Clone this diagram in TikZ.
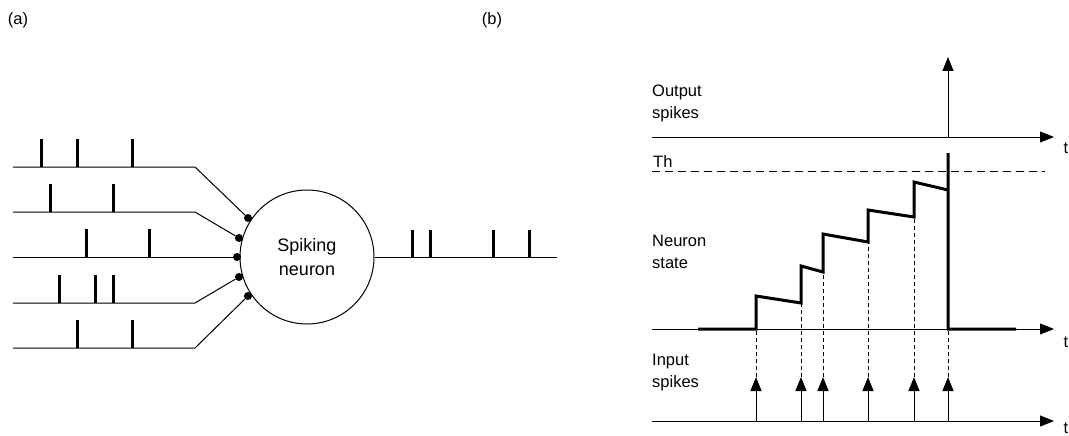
\documentclass[tikz,border=0pt]{standalone}
\usepackage{fontspec}
\setmainfont{Liberation Sans}
\usetikzlibrary{arrows.meta}

\tikzset{
  wire/.style={line width=1pt},
  spike/.style={line width=3pt},
  syn/.style={circle, fill, inner sep=0pt, minimum size=8pt},
  axis/.style={line width=1pt, -{Triangle[length=14pt,width=11pt]}},
  sidetext/.style={anchor=west, align=left, inner sep=0pt, font=\fontsize{16.5}{22}\selectfont},
  proj/.style={line width=0.8pt, dash pattern=on 4pt off 3pt},
}

\begin{document}
\begin{tikzpicture}[x=1pt, y=-1pt]
\useasboundingbox (0,0) rectangle (1069,436);

% panel labels
\node[font=\fontsize{16.5}{20}\selectfont] (pa) at (18,20) {(a)};
\node[font=\fontsize{16.5}{20}\selectfont] (pb) at (492,20) {(b)};

% (a) spiking neuron
\node[circle, draw, line width=1pt, minimum size=134pt, align=center, font=\fontsize{18}{24}\selectfont] (neuron) at (307,257) {Spiking\\neuron};

\node[syn] (s1) at (248,218) {};
\node[syn] (s2) at (239,238) {};
\node[syn] (s3) at (237,257) {};
\node[syn] (s4) at (239,277) {};
\node[syn] (s5) at (248,296) {};

\coordinate (in1) at (13,167);
\coordinate (in2) at (13,212);
\coordinate (in3) at (13,257);
\coordinate (in4) at (13,303);
\coordinate (in5) at (13,348);
\coordinate (k1) at (195,167);
\coordinate (k2) at (195,212);
\coordinate (k4) at (195,303);
\coordinate (k5) at (195,348);
\coordinate (out) at (557,257);

\draw[wire] (in1) -- (k1) -- (s1);
\draw[wire] (in2) -- (k2) -- (s2);
\draw[wire] (in3) -- (s3);
\draw[wire] (in4) -- (k4) -- (s4);
\draw[wire] (in5) -- (k5) -- (s5);
\draw[wire] (neuron) -- (out);

% input spike trains
\draw[spike] (41,167) -- ++(0,-28) (77,167) -- ++(0,-28) (132,167) -- ++(0,-28);
\draw[spike] (50,212) -- ++(0,-28) (113,212) -- ++(0,-28);
\draw[spike] (86,257) -- ++(0,-28) (149,257) -- ++(0,-28);
\draw[spike] (59,303) -- ++(0,-28) (95,303) -- ++(0,-28) (113,303) -- ++(0,-28);
\draw[spike] (77,348) -- ++(0,-28) (132,348) -- ++(0,-28);
% output spike train
\draw[spike] (412,257) -- ++(0,-27) (430,257) -- ++(0,-27) (493,257) -- ++(0,-27) (529,257) -- ++(0,-27);

% (b) neuron dynamics
\node[sidetext] (outlbl) at (652,103) {Output\\spikes};
\node[sidetext] (thlbl) at (653,162) {Th};
\node[sidetext] (statelbl) at (652,252) {Neuron\\state};
\node[sidetext] (inlbl) at (652,373) {Input\\spikes};
\node[font=\fontsize{16.5}{20}\selectfont] (t1) at (1066,148) {t};
\node[font=\fontsize{16.5}{20}\selectfont] (t2) at (1066,342) {t};
\node[font=\fontsize{16.5}{20}\selectfont] (t3) at (1066,428) {t};

\coordinate (oa) at (652,137);
\coordinate (oe) at (1054,137);
\coordinate (na) at (652,329);
\coordinate (ne) at (1054,329);
\coordinate (ia) at (652,421);
\coordinate (ie) at (1054,421);
\coordinate (tha) at (652,171);
\coordinate (the) at (1045,171);

\draw[axis] (oa) -- (oe);
\draw[axis] (na) -- (ne);
\draw[axis] (ia) -- (ie);
\draw[wire, dash pattern=on 8pt off 5pt] (tha) -- (the);

% output spike
\draw[axis] (948,137) -- (948,57);

% projections of the input spikes
\draw[proj] (756,377) -- (756,329);
\draw[proj] (801,377) -- (801,303);
\draw[proj] (823,377) -- (823,272);
\draw[proj] (868,377) -- (868,243);
\draw[proj] (914,377) -- (914,217);
\draw[proj] (948,377) -- (948,329);

% input spikes
\draw[axis] (756,421) -- (756,377);
\draw[axis] (801,421) -- (801,377);
\draw[axis] (823,421) -- (823,377);
\draw[axis] (868,421) -- (868,377);
\draw[axis] (914,421) -- (914,377);
\draw[axis] (948,421) -- (948,377);

% neuron state
\draw[line width=3pt, line join=miter] (698,329) -- (756,329) -- (756,296) -- (801,303) -- (801,266)
  -- (823,272) -- (823,234) -- (868,242) -- (868,210) -- (914,217) -- (914,182)
  -- (948,190) -- (948,153) -- (948,329) -- (1016,329);
\end{tikzpicture}
\end{document}
